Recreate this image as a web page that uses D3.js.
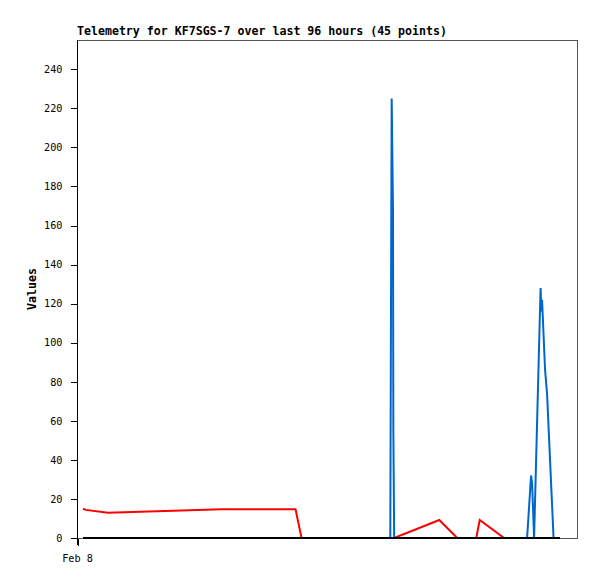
<!DOCTYPE html>
<html>
<head>
<meta charset="utf-8">
<script src="https://cdn.jsdelivr.net/npm/d3@7"></script>
<style>
  html, body { margin: 0; padding: 0; background: #fff; }
  svg { display: block; }
</style>
</head>
<body>
<svg id="chart" width="597" height="579"></svg>
<script>
// ---- data (hours since Feb 8 00:00) ----
const hours = [1.15, 1.72, 5.94, 27.78, 41.96, 43.11, 60.15, 60.28, 60.42, 60.67, 60.74, 60.90,
               69.56, 73.01, 76.65, 77.32, 82.01, 86.42, 87.18, 87.38, 87.76, 89.01, 89.16,
               89.29, 89.87, 90.25, 91.50, 92.74];
const redValues = [15.0, 14.4, 12.9, 14.7, 14.7, 0, 0, 0, 0, 0, 0, 0,
                   9.2, 0, 0, 9.2, 0, 0, 0, 0, 0, 0, 0,
                   0, 0, 0, 0, 0];
const blueValues = [0, 0, 0, 0, 0, 0, 0, 112, 225, 168, 56, 0,
                    0, 0, 0, 0, 0, 0, 32, 28, 0, 128, 116,
                    122, 86, 74, 0, 0];
const blackValues = hours.map(() => 0);
const yTicks = [0, 20, 40, 60, 80, 100, 120, 140, 160, 180, 200, 220, 240];
const xTickValues = [0];
const xTickLabels = ["Feb 8"];
const titleText = "Telemetry for KF7SGS-7 over last 96 hours (45 points)";
const yLabel = "Values";

// ---- layout ----
const L = 77, R = 577, T = 40, B = 538;
const svg = d3.select("#chart");
const x = d3.scaleLinear().domain([0, 96]).range([L, R]);
const y = d3.scaleLinear().domain([0, 255]).range([B, T]);

// frame
svg.append("rect")
  .attr("x", L + 0.5).attr("y", T + 0.5)
  .attr("width", R - L).attr("height", B - T)
  .attr("fill", "none").attr("stroke", "#555").attr("stroke-width", 1)
  .attr("shape-rendering", "crispEdges");

// y axis
const yAxis = svg.append("g")
  .attr("transform", `translate(${L + 0.5},0)`)
  .call(d3.axisLeft(y).tickValues(yTicks).tickSize(7).tickPadding(8));
yAxis.select(".domain").remove();
yAxis.selectAll("line").attr("stroke", "#000").attr("shape-rendering", "crispEdges");
yAxis.selectAll("text")
  .attr("font-family", "'DejaVu Sans Mono', monospace")
  .attr("font-size", "10.2px").attr("fill", "#000");

// x axis
const xAxis = svg.append("g")
  .attr("transform", `translate(0,${B + 0.5})`)
  .call(d3.axisBottom(x).tickValues(xTickValues)
        .tickFormat((d, i) => xTickLabels[i]).tickSize(7).tickPadding(9));
xAxis.select(".domain").remove();
xAxis.selectAll("line").attr("stroke", "#000").attr("shape-rendering", "crispEdges")
  .attr("transform", "translate(0.5,0)");
xAxis.selectAll("text")
  .attr("font-family", "'DejaVu Sans Mono', monospace")
  .attr("font-size", "10.2px").attr("fill", "#000");

// left axis line
svg.append("line")
  .attr("x1", L + 0.5).attr("x2", L + 0.5)
  .attr("y1", T).attr("y2", B + 7)
  .attr("stroke", "#000").attr("shape-rendering", "crispEdges");

// series
const line = (vals) => d3.line()
  .x((d, i) => x(hours[i]))
  .y(d => y(d))(vals);

svg.append("path").attr("d", line(redValues))
  .attr("fill", "none").attr("stroke", "#ff0000").attr("stroke-width", 2)
  .attr("stroke-linejoin", "miter");
svg.append("path").attr("d", line(blueValues))
  .attr("fill", "none").attr("stroke", "#0066cc").attr("stroke-width", 2)
  .attr("stroke-linejoin", "miter");
svg.append("path").attr("d", line(blackValues))
  .attr("fill", "none").attr("stroke", "#000").attr("stroke-width", 2);

// title
svg.append("text")
  .attr("x", L).attr("y", 35)
  .attr("font-family", "'DejaVu Sans Mono', monospace")
  .attr("font-weight", "bold").attr("font-size", "11.6px")
  .text(titleText);

// y label
svg.append("text")
  .attr("transform", `translate(36,289) rotate(-90)`)
  .attr("text-anchor", "middle")
  .attr("font-family", "'DejaVu Sans Mono', monospace")
  .attr("font-weight", "bold").attr("font-size", "11.6px")
  .text(yLabel);
</script>
</body>
</html>
